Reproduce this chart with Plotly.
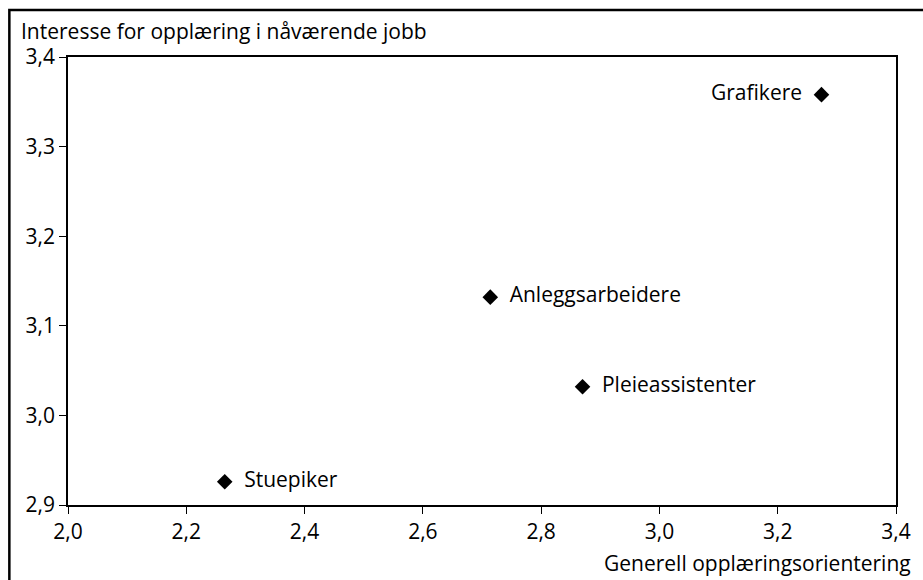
import plotly.graph_objects as go

groups = ["Grafikere", "Anleggsarbeidere", "Pleieassistenter", "Stuepiker"]
x_vals = [3.274, 2.714, 2.870, 2.265]
y_vals = [3.358, 3.132, 3.032, 2.926]
label_pos = ["middle left", "middle right", "middle right", "middle right"]

x_title = "Generell opplæringsorientering"
y_title = "Interesse for opplæring i nåværende jobb"

FONT = "Open Sans"
FS = 21
W, H = 923, 580
L, R, T, B = 68, 22, 57, 75

fig = go.Figure()
fig.add_trace(go.Scatter(
    x=x_vals, y=y_vals, mode="markers+text",
    text=["\u00a0\u00a0" + g + "\u00a0\u00a0" for g in groups], textposition=label_pos,
    marker=dict(symbol="diamond", size=12, color="black"),
    textfont=dict(family=FONT, size=FS, color="black"),
    cliponaxis=False, showlegend=False, hoverinfo="skip",
))

pw = W - L - R
ph = H - T - B
def px_x(p):
    return (p - L) / pw
def px_y(p):
    return (H - B - p) / ph

fig.update_layout(
    width=W, height=H,
    margin=dict(l=L, r=R, t=T, b=B),
    paper_bgcolor="white", plot_bgcolor="white",
    separators=", ",
    font=dict(family=FONT, size=FS, color="black"),
    xaxis=dict(range=[2.0, 3.4], dtick=0.2, tick0=2.0, tickformat=".1f",
               showgrid=False, zeroline=False, showline=True, linecolor="black",
               linewidth=1.5, mirror=True, ticks="outside", ticklen=7,
               tickcolor="black", tickfont=dict(family=FONT, size=FS)),
    yaxis=dict(range=[2.9, 3.4], dtick=0.1, tick0=2.9, tickformat=".1f",
               showgrid=False, zeroline=False, showline=True, linecolor="black",
               linewidth=1.5, mirror=True, ticks="outside", ticklen=7,
               tickcolor="black", tickfont=dict(family=FONT, size=FS)),
    shapes=[dict(type="rect", xref="paper", yref="paper",
                 x0=px_x(9), x1=px_x(940), y0=px_y(600), y1=px_y(10),
                 line=dict(color="black", width=2.5), fillcolor="rgba(0,0,0,0)")],
    annotations=[
        dict(text=y_title, xref="paper", yref="paper", x=px_x(19), y=px_y(31),
             xanchor="left", yanchor="middle", showarrow=False,
             font=dict(family=FONT, size=FS)),
        dict(text=x_title, xref="paper", yref="paper", x=px_x(918), y=px_y(563),
             xanchor="right", yanchor="middle", showarrow=False,
             font=dict(family=FONT, size=FS)),
    ],
)

fig.write_html("out.html", config={"displayModeBar": False},
               post_script="document.body.style.margin='0';document.body.style.overflow='hidden';")
